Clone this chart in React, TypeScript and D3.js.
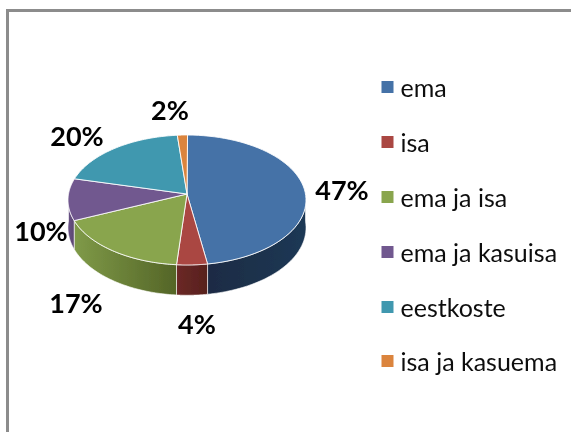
import React from "react";
import * as d3 from "d3";

const categories = ["ema", "isa", "ema ja isa", "ema ja kasuisa", "eestkoste", "isa ja kasuema"];
const values = [47.4, 3.8, 17.2, 10.4, 19.7, 1.5];
const labels = ["47%", "4%", "17%", "10%", "20%", "2%"];
const colors = ["#4572A7", "#AA4643", "#89A54E", "#71588F", "#4198AF", "#DB843D"];
const sideFrom = ["#1f3855", "#6b2926", "#7f9a48", "#6a5388", "#2f7184", "#a5632d"];
const sideTo = ["#1a2b44", "#57201d", "#546527", "#59456f", "#2a6373", "#8f5526"];
const labelPos: [number, number][] = [[342, 189], [197, 323], [76, 302], [41, 230], [77, 135], [170, 109]];
const legendY = [87, 142, 197, 252, 307, 361];

const W = 571, H = 432;
const cx = 187, cy = 194, k = 118.5, a = 64.4, c = 0.0923, depth = 27.5;

const project = (ang: number, z = 0): [number, number] => {
  const u = Math.sin(ang), v = -Math.cos(ang), d = 1 - c * v;
  return [cx + (k * u) / d, cy + (a * v) / d + (z * depth) / d];
};

const pie = d3.pie<number>().sort(null).startAngle(0.005).endAngle(2 * Math.PI + 0.005);
const arcs = pie(values);
const line = d3.line();
const samples = (s: number, e: number) => d3.range(0, 61).map((i) => s + ((e - s) * i) / 60);
const FONT = "Lato, Carlito, sans-serif";

export default function App() {
  return (
    <svg width={W} height={H} viewBox={`0 0 ${W} ${H}`} style={{ position: "absolute", left: 0, top: 0, display: "block" }}>
      <defs>
        {arcs.map((_, i) => (
          <linearGradient key={i} id={`side${i}`} x1="0" x2="1" y1="0" y2="0">
            <stop offset="0%" stopColor={i === 0 ? sideTo[i] : sideFrom[i]} />
            <stop offset="100%" stopColor={i === 0 ? sideFrom[i] : sideTo[i]} />
          </linearGradient>
        ))}
        <filter id="soft" x="-10%" y="-10%" width="120%" height="120%">
          <feGaussianBlur stdDeviation="0.45" />
        </filter>
      </defs>
      <rect width={W} height={H} fill="#fff" />
      <path d={`M7.5 ${H}V10.5H${W}`} fill="none" stroke="#8c8c8c" strokeWidth={3} />
      <g filter="url(#soft)">
        {arcs.map((d, i) => {
          const s = Math.max(d.startAngle, Math.PI / 2);
          const e = Math.min(d.endAngle, (3 * Math.PI) / 2);
          if (e <= s) return null;
          const pts = samples(s, e);
          const ring = [...pts.map((p) => project(p, 0)), ...pts.slice().reverse().map((p) => project(p, 1))];
          return <path key={i} d={line(ring) + "Z"} fill={`url(#side${i})`} stroke="#fff" strokeOpacity={0.75} strokeWidth={0.8} strokeLinejoin="round" />;
        })}
        {arcs.map((d, i) => {
          const ring = [[cx, cy] as [number, number], ...samples(d.startAngle, d.endAngle).map((p) => project(p, 0))];
          return <path key={i} d={line(ring) + "Z"} fill={colors[i]} stroke="#fff" strokeOpacity={0.85} strokeWidth={1} strokeLinejoin="round" />;
        })}
        {labels.map((t, i) => (
          <text key={t} x={labelPos[i][0]} y={labelPos[i][1]} textAnchor="middle" dominantBaseline="central"
            fontFamily={FONT} fontWeight={700} fontSize={27} fill="#000">{t}</text>
        ))}
        {categories.map((t, i) => (
          <g key={t}>
            <rect x={381.5} y={legendY[i] - 6} width={12} height={12} fill={colors[i]} />
            <text x={400.5} y={legendY[i]} dominantBaseline="central" fontFamily={FONT} fontSize={25} fill="#111">{t}</text>
          </g>
        ))}
      </g>
    </svg>
  );
}
